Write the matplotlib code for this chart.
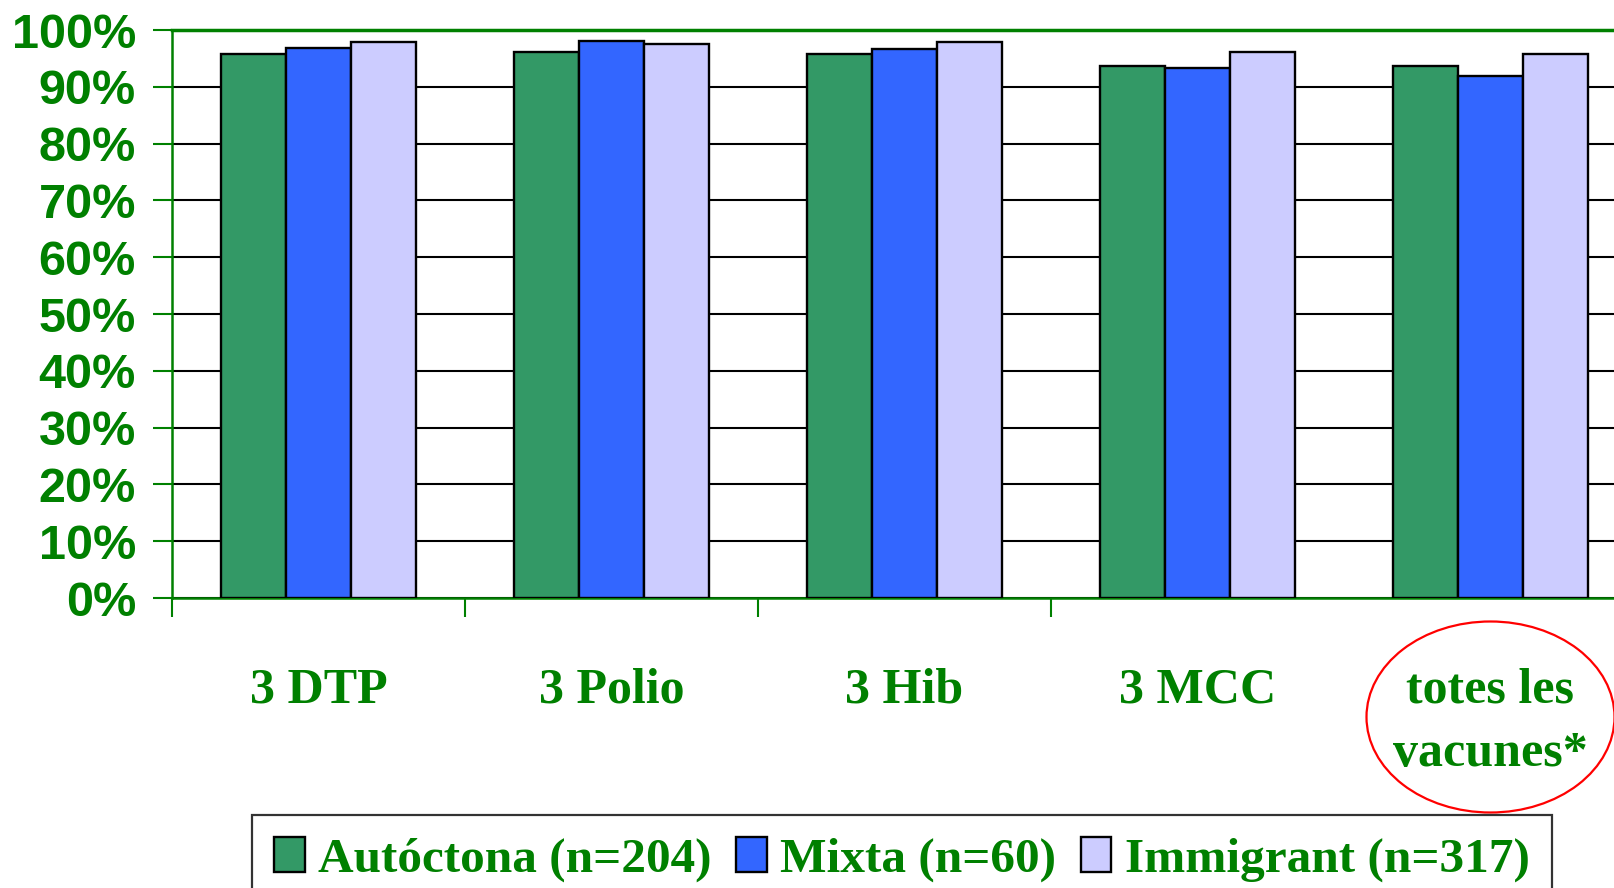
import matplotlib
matplotlib.use("Agg")
from matplotlib import pyplot as plt
from matplotlib.patches import Ellipse
from matplotlib.transforms import blended_transform_factory
import numpy as np

GREEN_TEXT = "#008000"

categories = ["3 DTP", "3 Polio", "3 Hib", "3 MCC", "totes les\nvacunes*"]
series_names = ["Autóctona (n=204)", "Mixta (n=60)", "Immigrant (n=317)"]
autoctona = [95.8, 96.1, 95.8, 93.6, 93.6]
mixta = [96.8, 98.1, 96.7, 93.3, 91.9]
immigrant = [97.8, 97.5, 97.8, 96.1, 95.7]
y_ticks = [0, 10, 20, 30, 40, 50, 60, 70, 80, 90, 100]
highlighted = 4

series = [autoctona, mixta, immigrant]
colors = ["#339966", "#3366FF", "#CCCCFF"]

fig = plt.figure(figsize=(16.14, 8.88), dpi=100)
ax = fig.add_axes([172 / 1614, 1 - 598 / 888, 1 - 172 / 1614, 568 / 888])

x = np.arange(len(categories))
width = 0.222
for i, (vals, name, c) in enumerate(zip(series, series_names, colors)):
    ax.bar(x + (i - 1) * width, vals, width, color=c, edgecolor="black",
           linewidth=1.7, label=name, zorder=3)

ax.set_ylim(0, 100)
ax.set_xlim(-0.5, -0.5 + (1614 - 172) / 293)
ax.set_yticks(y_ticks)
ax.set_yticklabels([f"{v}%" for v in y_ticks], fontfamily="Liberation Sans",
                   fontweight="bold", fontsize=35, color=GREEN_TEXT)
ax.yaxis.grid(True, color="black", linewidth=1.5, zorder=0)
ax.set_axisbelow(True)

ax.set_xticks(x[:-1] - 0.5)
ax.set_xticklabels([])
ax.tick_params(axis="both", colors=GREEN_TEXT, direction="out", length=14, width=1.5)
ax.tick_params(axis="y", pad=12)

for side in ["left", "bottom", "top"]:
    ax.spines[side].set_color(GREEN_TEXT)
    ax.spines[side].set_linewidth(1.8)
ax.spines["top"].set_linewidth(2.5)
ax.spines["right"].set_visible(False)

trans = blended_transform_factory(ax.transData, ax.transAxes)
for xi, label in zip(x, categories):
    ax.text(xi, -0.123, label, transform=trans, ha="center", va="top",
            fontfamily="Liberation Serif", fontweight="bold", fontsize=36,
            color=GREEN_TEXT, linespacing=1.5, multialignment="center")

ax.add_patch(Ellipse((x[highlighted], -0.2095), 248 / 293, 191 / 568, transform=trans,
                     fill=False, edgecolor="red", linewidth=1.6, clip_on=False))

leg = fig.legend(loc="upper left", bbox_to_anchor=(252 / 1614, 1 - 815 / 888), ncol=3,
                 frameon=True, fancybox=False, edgecolor="black", borderpad=0.45,
                 borderaxespad=0, handlelength=0.62, handleheight=0.7, handletextpad=0.27,
                 columnspacing=0.5,
                 prop={"family": "Liberation Serif", "weight": "bold", "size": 35.5})
leg.get_frame().set_linewidth(1.6)
for t in leg.get_texts():
    t.set_color(GREEN_TEXT)

fig.savefig("out.png", dpi=100)
